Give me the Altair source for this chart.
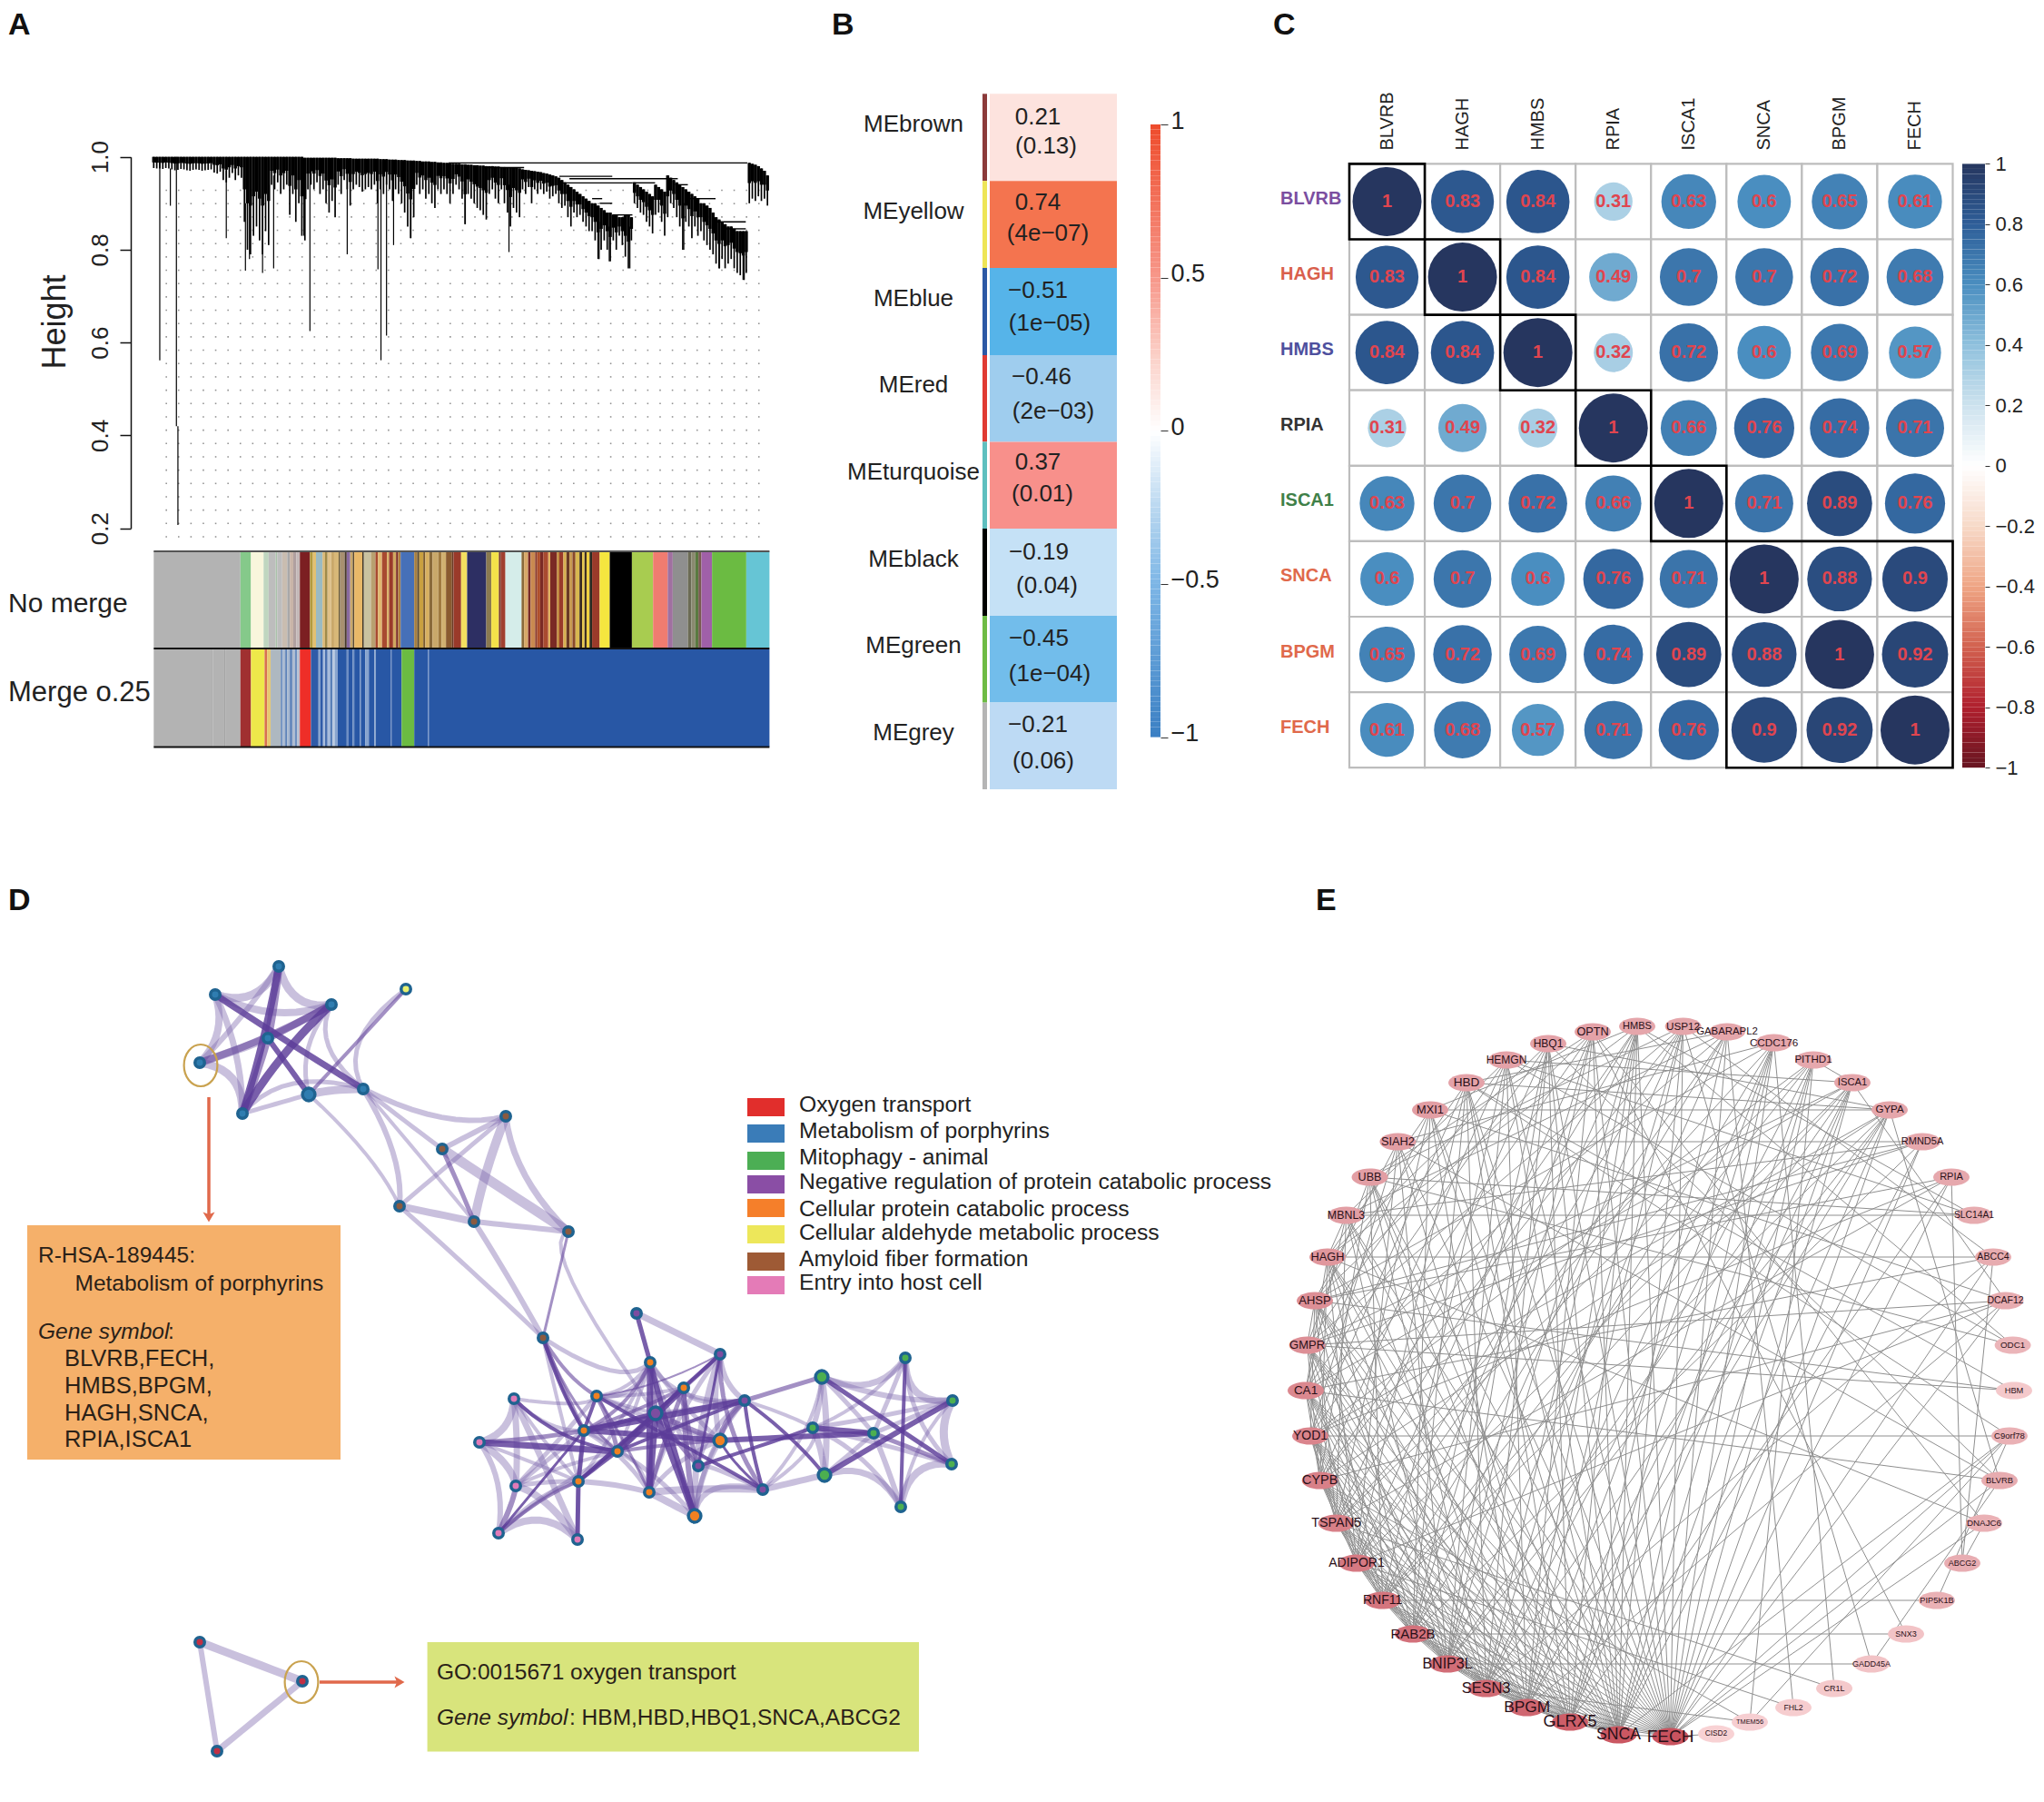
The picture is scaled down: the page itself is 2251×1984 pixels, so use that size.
import altair as alt
import numpy as np
import pandas as pd

W, H = 2235, 1968
FONT = "Liberation Sans"
PX = alt.Scale(domain=[8, 8 + W], range=[0, W], nice=False, zero=False)
PY = alt.Scale(domain=[8, 8 + H], range=[0, H], nice=False, zero=False)

# ---------- Panel A ----------
LEAF = alt.Scale(domain=[305, 1527], range=[161.3, 839.4], nice=False, zero=False)
HGT = alt.Scale(domain=[0.2, 1.0], range=[573.7, 164.7], nice=False, zero=False)
DEND_BOTTOM = [
 .976,.975,.975,.974,.976,.975,.973,.971,.972,.974,.973,.971,.970,.972,.973,.972,.970,.971,.972,.973,
 .966,.964,.968,.950,.945,.955,.965,.950,.960,.955,
 .86,.80,.79,.83,.85,.82,.79,.84,.81,
 .94,.93,.945,.92,.93,.94,.875,.92,.86,.90,.83,
 .82,.93,.94,.93,.945,.92,.93,.90,.88,.905,.87,
 .94,.92,.95,.93,.895,.93,.94,.935,.925,.93,.935,.93,.94,.90,
 .93,.92,.94,.93,.905,.93,.92,.90,.88,.85,.825,.87,
 .94,.92,.93,.91,.92,.90,.89,.93,.92,.93,.92,.90,.92,
 .94,.93,.91,.855,.92,.91,.90,.89,.885,.875,.865,
 .92,.93,.91,.90,.93,.90,.88,.85,.89,.88,.87,
 .93,.92,.935,.90,.93,.92,.93,.92,.925,.91,.915,
 .92,.90,.89,.895,.87,.85,.88,.87,.875,.86,.85,.84,.84,.82,.78,.80,.82,.80,.775,.82,.80,.83,.81,.785,.76,.82,
 .90,.89,.88,.875,.86,.85,.835,.875,.88,.86,.83,.87,
 .90,.89,.87,.85,.80,.86,.85,.825,.85,.83,.84,.82,.81,.80,.79,.77,.76,.78,.76,.77,.78,.76,.75,.745,.735,.75,
 .90,.91,.905,.915,.905,.91,.895]
DEND_TOP = [1.0,1.0,1.0,1.0,1.0,1.0,1.0,1.0,1.0,1.0,1.0,1.0,1.0,1.0,1.0,1.0,1.0,1.0,1.0,1.0,
 1.0,1.0,1.0,1.0,1.0,1.0,1.0,1.0,1.0,1.0,1.0,1.0,1.0,1.0,1.0,1.0,1.0,1.0,1.0,
 1.0,1.0,1.0,1.0,1.0,1.0,1.0,1.0,1.0,1.0,1.0,
 .998,.998,.998,.998,.998,.998,.998,.998,.998,.998,.998,
 .997,.997,.997,.997,.997,.996,.996,.996,.996,.996,.996,.996,.996,.996,
 .995,.995,.995,.994,.994,.994,.993,.993,.993,.992,.992,.992,
 .991,.991,.990,.990,.990,.989,.989,.988,.988,.987,.987,.986,.985,
 .985,.985,.984,.984,.983,.983,.982,.982,.981,.981,.980,
 .980,.980,.979,.979,.978,.978,.977,.977,.976,.976,.975,
 .973,.972,.971,.970,.969,.968,.967,.965,.964,.962,.960,
 .958,.955,.95,.945,.94,.935,.93,.925,.92,.915,.91,.905,.90,.90,.895,.89,.885,.88,.88,.875,.875,.87,.87,.875,.875,.87,
 .945,.94,.935,.93,.925,.92,.915,.94,.935,.93,.925,.96,
 .955,.95,.945,.94,.935,.93,.925,.92,.915,.91,.90,.90,.895,.89,.88,.87,.865,.86,.855,.85,.85,.845,.84,.84,.84,.84,
 .987,.985,.983,.98,.975,.97,.96]
DEND_X = list(range(305, 305 + 6 * len(DEND_TOP), 6))
SPIKES = [(317,.99,.562),(338,.975,.895),(350,1.0,.42),(353,.42,.207),(449,.97,.825),(487,.9,.755),
 (495,.9,.78),(521,.9,.75),(543,.96,.76),(603,.97,.83),(615,.97,.625),(689,.98,.79),(750,.98,.758),
 (756,.99,.562),(767,.99,.615),(781,.97,.81),(815,.92,.825),(923,.95,.855),(1010,.94,.795),
 (1189,.86,.78),(1209,.85,.775),(1250,.85,.76),(1428,.82,.76),(1477,.8,.735),(1357,.9,.80)]
LINKS = [(890,1483,.987),(960,1040,.977),(1110,1215,.958),(1130,1325,.953),(1115,1255,.944),(1255,1300,.944),
 (1325,1345,.953),(1340,1365,.94),(1365,1420,.91),(1175,1195,.91),(1190,1215,.90),(1215,1255,.875),
 (1420,1480,.86),(1440,1480,.845)]
TRACK1 = [(477,'#B3B3B3'),(498,'#85C98A'),(523,'#F8F6DC'),(533,'#BFD6BF'),(547,'#BDBDBD'),(550,'#A9C2A9'),(560,'#BDBDBD'),
 (570,'#C9BDB0'),(575,'#A8A8A8'),(582,'#C9B5A8'),(588,'#B0A0A0'),(595,'#C4B8B8'),(615,'#7C1F22'),(621,'#B39A3D'),
 (627,'#E3C070'),(640,'#9BBAC2'),(645,'#D8B878'),(650,'#A08A4A'),(657,'#E0C088'),(663,'#C9A86A'),(672,'#D8B878'),
 (675,'#6A5A3A'),(684,'#A89070'),(688,'#4A3A2A'),(695,'#8A6BA0'),(700,'#C9A86A'),(703,'#5A4A30'),(719,'#E8B868'),
 (722,'#3A3020'),(736,'#C9C2A0'),(745,'#B8A070'),(750,'#A84A30'),(758,'#E0B870'),(768,'#A84A30'),(772,'#D8B060'),
 (780,'#9A3A2A'),(786,'#D0A860'),(790,'#7A2A25'),(795,'#B08040'),(822,'#4670B8'),(828,'#A88040'),(832,'#5C4A2A'),
 (840,'#C9A040'),(844,'#7A5A2A'),(852,'#D8B060'),(858,'#8A6A3A'),(870,'#C9A86A'),(876,'#A07A40'),(885,'#D0B070'),
 (897,'#8A5A30'),(900,'#6A3A25'),(915,'#9A3A2A'),(927,'#F4E060'),(965,'#2D2F63'),(975,'#8A7A50'),(990,'#F3E24A'),
 (994,'#7A3A2A'),(1003,'#A04030'),(1035,'#D5EDEA'),(1040,'#8A6A3A'),(1048,'#D8A868'),(1053,'#7A2A25'),(1062,'#C98A50'),
 (1066,'#8A3A2A'),(1072,'#B0502A'),(1078,'#7A2A25'),(1088,'#A84A30'),(1092,'#E0B060'),(1105,'#7A2A25'),(1110,'#C08A40'),
 (1118,'#9A3A2A'),(1124,'#D8B050'),(1130,'#6A3A25'),(1136,'#C89A50'),(1142,'#8A4A2A'),(1150,'#D8B850'),(1155,'#3A2A20'),
 (1160,'#E8C850'),(1164,'#3A2A20'),(1170,'#F0D040'),(1175,'#2A2A20'),(1190,'#9A3A2A'),(1210,'#F5E63F'),(1254,'#000000'),
 (1296,'#A8CC50'),(1325,'#F07C70'),(1335,'#A070A0'),(1365,'#8F8F8F'),(1372,'#6B6B55'),(1380,'#8A8A70'),(1386,'#5A7A40'),
 (1392,'#7A5A50'),(1413,'#A060A8'),(1481,'#6BBB42'),(1527,'#66C5D5')]
TRACK2 = [(420,'#B3B3B3'),(422,'#A5A5A5'),(445,'#B3B3B3'),(447,'#A5A5A5'),(477,'#B3B3B3'),(498,'#A03030'),(525,'#EEE84A'),
 (530,'#D87050'),(537,'#E8C870'),(557,'#AEB8C0'),(561,'#6E8FBF'),(566,'#A8B8D0'),(570,'#5E82B8'),(575,'#A8B8D0'),
 (580,'#5E82B8'),(585,'#B0BCD0'),(590,'#6E8FBF'),(595,'#B8C0D0'),(617,'#EE2E28'),(632,'#2F5BA8'),(636,'#88A4CE'),
 (641,'#2F5BA8'),(645,'#A8BCDC'),(650,'#4A70B0'),(655,'#A8BCDC'),(660,'#5A80B8'),(664,'#B8C8E0'),(670,'#88A4CE'),
 (688,'#2857A5'),(691,'#6E8FC4'),(700,'#2857A5'),(703,'#6E8FC4'),(714,'#2857A5'),(716,'#6E8FC4'),(725,'#2857A5'),
 (732,'#88A4CE'),(743,'#2857A5'),(746,'#88A4CE'),(775,'#2857A5'),(777,'#6E8FC4'),(797,'#2857A5'),(822,'#6BBB42'),
 (849,'#2857A5'),(851,'#6E8FC4'),(1527,'#2857A5')]

# ---------- Panel B ----------
B_NAMES = ["MEbrown","MEyellow","MEblue","MEred","MEturquoise","MEblack","MEgreen","MEgrey"]
B_CORR = ["0.21","0.74","\u22120.51","\u22120.46","0.37","\u22120.19","\u22120.45","\u22120.21"]
B_PVAL = ["(0.13)","(4e\u221207)","(1e\u221205)","(2e\u221203)","(0.01)","(0.04)","(1e\u221204)","(0.06)"]
B_CELL = ['#FDE3DE','#F4744F','#56B4E9','#9FCDEE','#F8908B','#C5E1F6','#72BDEB','#BDDAF4']
B_SIDE = ['#8B3A3A','#EEE556','#2B58A5','#E03A33','#5FBFBF','#000000','#6DBB45','#B5B5B5']
B_LAB_Y = [137,233,329,424,520,616,711,807]
B_C_X = [1143,1143,1143,1147,1143,1144,1144,1143]
B_C_Y = [129,223,320,415,509,608,703,798]
B_P_X = [1152,1154,1156,1160,1148,1153,1156,1149]
B_P_Y = [161,257,356,453,544,645,742,838]
B_STOP_D = [-1,-.5,-.25,0,.25,.5,1]
B_STOP_C = ['#3A7FC3','#7DB6E6','#BAD8F0','#FFFFFF','#FBCFC6','#F7978A','#EE4B2B']

# ---------- Panel C ----------
GENES = ["BLVRB","HAGH","HMBS","RPIA","ISCA1","SNCA","BPGM","FECH"]
GENE_COL = ['#7B4EA0','#D9604C','#4E509E','#333333','#3F8048','#E0694B','#E0694B','#E0694B']
CORR = [[1,.83,.84,.31,.63,.6,.65,.61],[.83,1,.84,.49,.7,.7,.72,.68],[.84,.84,1,.32,.72,.6,.69,.57],
 [.31,.49,.32,1,.66,.76,.74,.71],[.63,.7,.72,.66,1,.71,.89,.76],[.6,.7,.6,.76,.71,1,.88,.9],
 [.65,.72,.69,.74,.89,.88,1,.92],[.61,.68,.57,.71,.76,.9,.92,1]]
BOXES = [(0,1),(1,2),(2,3),(3,4),(4,5),(5,8)]
C_STOP_D = [-1,-.8,-.6,-.4,-.2,0,.2,.4,.6,.8,1]
C_STOP_C = ['#671520','#B01F2E','#D2614F','#EFA584','#F7D9C8','#FFFFFF','#CDE2EE','#8FC1DD','#4A8EC0','#2E5E98','#26365F']
CX = alt.Scale(domain=[0, 8], range=[1478, 2142.5], nice=False, zero=False)
CY = alt.Scale(domain=[0, 8], range=[172.4, 837.2], nice=False, zero=False)

# ---------- Panel D ----------
LEG = ["Oxygen transport","Metabolism of porphyrins","Mitophagy - animal","Negative regulation of protein catabolic process",
 "Cellular protein catabolic process","Cellular aldehyde metabolic process","Amyloid fiber formation","Entry into host cell"]
LEG_C = ['#E12E2C','#3A7CB8','#4CAE54','#8A4EA5','#F57F2A','#EDE75A','#9E5A35','#E47BB7']
LEG_T = [1209,1238,1268,1294,1320,1349,1379,1405]
LEG_Y = [1217,1246,1275,1302,1332,1358,1387,1413]
BLUE,PUR,ORG,PNK,GRN,BRN,RED,YEL = '#2F7DB0','#7D4DA0','#F08020','#E07AB8','#4CAF50','#8A5A40','#C03045','#E8F070'
NODES = {
 'a':(237,1095,BLUE,0),'b':(307,1064,BLUE,0),'c':(365,1106,BLUE,0),'d':(295,1143,BLUE,0),'e':(220,1170,BLUE,0),
 'f':(267,1226,BLUE,0),'g':(340,1205,BLUE,1),'h':(400,1199,BLUE,0),'y':(447,1089,YEL,0),
 'i':(557,1229,BRN,0),'j':(487,1265,BRN,0),'k':(440,1328,BRN,0),'l':(522,1345,BRN,0),'m':(626,1356,BRN,0),'n':(598,1473,BRN,0),
 'p1':(701,1446,PUR,0),'p2':(793,1491,PUR,0),'o1':(716,1500,ORG,0),'o2':(753,1528,ORG,0),'o3':(657,1537,ORG,0),
 'k1':(566,1540,PNK,0),'pc':(722,1556,PUR,1),'p3':(820,1542,PUR,0),'g1':(905,1516,GRN,1),'g2':(997,1495,GRN,0),
 'g3':(1049,1542,GRN,0),'g4':(895,1572,GRN,0),'g5':(962,1578,GRN,0),'o4':(643,1575,ORG,0),'o5':(793,1586,ORG,1),
 'k2':(528,1588,PNK,0),'o6':(680,1598,ORG,0),'p4':(769,1614,PUR,0),'g6':(1048,1612,GRN,0),'o7':(637,1631,ORG,0),
 'k3':(568,1636,PNK,0),'o8':(715,1643,ORG,0),'p5':(840,1640,PUR,0),'g7':(908,1624,GRN,1),'o9':(765,1669,ORG,1),
 'g8':(992,1659,GRN,0),'k4':(549,1688,PNK,0),'k5':(636,1695,PNK,0),
 't1':(220,1808,RED,0),'t2':(333,1851,RED,0),'t3':(239,1928,RED,0)}
HUBS = {'T':(300,1150),'S':(520,1300),'L':(600,1610),'M':(715,1575),'R':(975,1570),'Z':(0,0)}
# (from, to, width, strength 0 light - 2 dark, bundling hub, bundling amount)
EDGES = [
 ('a','b',9,0,'T',.35),('b','c',9,0,'T',.35),('a','e',8,0,'T',.25),('e','f',9,0,'T',.35),('a','c',8,0,'T',.45),
 ('a','h',7,2,'T',.1),('b','d',9,1,'T',.2),('b','f',8,2,'T',.3),('c','f',9,2,'T',.4),('c','d',8,1,'T',.1),
 ('e','c',8,1,'T',.45),('e','d',9,0,'T',.1),('d','f',8,1,'T',.2),('d','g',6,2,'T',.2),('f','g',5,0,'T',.0),
 ('f','h',5,0,'T',.5),('g','h',9,0,'T',.05),('c','h',5,0,'T',.4),('c','g',5,0,'T',.4),('y','h',5,0,'T',.35),
 ('y','g',4,1,'Z',.0),('a','f',7,0,'T',.25),('b','e',6,0,'T',.1),
 ('g','k',4,0,'S',.15),('h','i',6,0,'S',.3),('h','j',5,0,'S',.05),('h','l',4,0,'S',.03),('h','k',6,0,'S',.2),
 ('i','j',6,0,'S',.0),('i','k',5,0,'S',.0),('i','l',10,0,'S',.3),('j','l',5,1,'S',.05),('j','m',11,0,'S',.05),
 ('k','l',8,0,'S',.0),('l','m',6,0,'S',.0),('i','m',7,0,'S',.3),('k','n',5,0,'S',.02),('l','n',6,0,'S',.08),
 ('m','pc',4,0,'S',.45),('m','n',3,1,'S',.0),
 ('k2','k1',8,0,'L',.25),('k2','k3',8,0,'L',.25),('k2','k4',6,0,'L',.25),('k1','k3',7,0,'L',.1),('k1','k5',7,0,'L',.3),
 ('k3','k4',6,1,'L',.15),('k3','k5',8,0,'L',.3),('k4','k5',8,0,'L',.35),('k3','o4',5,0,'L',.3),('k3','o3',5,0,'L',.3),
 ('k3','o6',4,0,'L',.35),('k4','o7',5,0,'L',.3),('k1','o3',4,0,'M',.3),('k1','o4',4,0,'L',.3),
 ('o7','k4',4,1,'L',.2),('k5','o4',4,0,'L',.1),('o7','o8',6,0,'M',.05),('o8','o9',8,0,'M',.0),('o8','p5',8,0,'M',.05),
 ('o9','p5',6,0,'M',.3),('p5','g7',7,0,'Z',.0),('o9','p3',5,0,'M',.2),('p1','p2',7,0,'M',.0),('o1','pc',6,1,'M',.0),
 ('n','o3',4,1,'L',.1),('n','o4',5,1,'L',.05),('n','o1',5,0,'M',.4),('n','o7',4,0,'L',.05),('o1','o3',5,0,'M',.35),
 ('o3','o5',5,0,'M',.3),('o3','pc',4,0,'M',.1),('o1','o5',5,0,'M',.1),('o1','p4',5,0,'M',.2),('o2','p3',5,0,'M',.3),
 ('o2','p4',5,1,'M',.1),('pc','p3',5,0,'M',.1),('p2','p3',6,0,'M',.1),('p2','o9',7,0,'M',.2),('p2','o8',5,0,'M',.4),
 ('p4','p5',5,0,'M',.3),('o5','p2',6,0,'M',.1),('o1','p3',5,0,'M',.4),('o6','o8',4,0,'M',.3),('o4','o8',5,0,'M',.2),
 ('o3','o1',4,0,'M',.2),('o3','o2',4,0,'M',.1),('o3','o6',5,1,'M',.1),('o4','o1',4,1,'M',.3),('o4','o2',4,1,'M',.1),
 ('o4','o6',5,0,'M',.1),('o6','pc',5,1,'M',.1),('o6','o1',4,0,'M',.1),('o6','o5',4,1,'M',.1),('o6','o9',5,0,'M',.2),
 ('o7','pc',4,1,'M',.1),('o7','o1',4,0,'M',.2),('o7','o2',4,0,'M',.1),('o8','o2',5,1,'M',.1),('o8','o5',5,0,'M',.2),
 ('o9','o5',6,0,'M',.1),('o9','o2',6,1,'M',.1),('p3','o5',6,1,'M',.1),('p3','p4',5,0,'M',.2),('p2','pc',4,0,'M',.1),
 ('p2','o2',4,1,'M',.1),('p2','p5',5,1,'M',.2),('o5','pc',6,1,'M',.1),('p4','pc',5,1,'M',.1),('k3','o7',5,0,'L',.1),
 ('k1','o7',4,0,'L',.2),('k2','o4',5,1,'L',.1),('k2','o7',4,0,'L',.2),('k4','o6',4,0,'L',.2),
 ('g1','p3',5,1,'M',.12),('g1','p5',4,0,'R',.2),('g4','p3',4,0,'R',.1),('g4','p5',4,0,'R',.3),
 ('g1','g7',7,0,'R',.08),('g1','g4',6,0,'R',.05),('g1','g5',5,0,'R',.1),('g1','g2',7,0,'R',.45),('g2','g3',8,0,'R',.45),
 ('g3','g6',9,0,'R',.2),('g6','g8',8,0,'R',.35),('g7','g8',7,0,'R',.4),('g7','g5',5,0,'R',.15),('g2','g5',5,0,'R',.1),
 ('g3','g5',5,0,'R',.1),('g4','g7',7,0,'R',.05),('g4','g6',5,0,'R',.1),('g2','g6',5,0,'R',.4),('g3','g4',5,0,'R',.2),
 ('g1','g3',6,0,'R',.3),('g4','g8',5,0,'R',.3),('g5','g8',6,0,'R',.1),('g2','g4',4,0,'R',.3),('g3','g8',4,0,'R',.3),
 ('t1','t2',9,0,'Z',.0),('t1','t3',6,0,'Z',.0),('t2','t3',7,0,'Z',.0),
 ('k2','o6',7,2,'Z',.0),('o4','p3',7,2,'M',.04),('o4','o5',6,2,'M',.08),('o7','k5',5,2,'Z',.0),('o7','o4',5,2,'Z',.0),
 ('k4','o4',3,2,'Z',.0),('k1','o6',4,2,'L',.35),('o3','o4',4,2,'Z',.0),('p1','o1',5,2,'Z',.0),('o1','o8',7,2,'M',.1),
 ('o1','o9',6,2,'M',.1),('pc','o9',7,2,'M',.0),('pc','o8',7,2,'M',.0),('o2','o6',7,2,'M',.05),('p2','o7',4,2,'M',.06),
 ('o7','o6',4,2,'Z',.0),('p3','p5',4,2,'M',.03),('o3','p5',4,2,'M',.1),('o5','p5',3,2,'M',.1),('o5','g5',6,2,'R',.03),
 ('p4','g4',4,2,'R',.04),('p4','p2',3,2,'Z',.0),('g1','g6',5,2,'R',.05),('g3','g7',6,2,'R',.05),('g5','g6',5,1,'R',.0),
 ('g4','g5',6,2,'R',.0),('g2','g8',4,2,'R',.02),('p3','g7',4,2,'R',.08),('n','o4',4,2,'L',.1),('n','o6',3,1,'L',.2),
 ('o3','o8',3,1,'M',.1),('o4','pc',5,2,'M',.05),('o6','p3',4,2,'M',.1),('o3','p2',2,1,'M',.2)]

# ---------- Panel E ----------
E_NAMES = ["FECH","SNCA","GLRX5","BPGM","SESN3","BNIP3L","RAB2B","RNF11","ADIPOR1","TSPAN5","CYPB","YOD1","CA1","GMPR","AHSP","HAGH",
 "MBNL3","UBB","SIAH2","MXI1","HBD","HEMGN","HBQ1","OPTN","HMBS","USP12","GABARAPL2","CCDC176","PITHD1","ISCA1","GYPA","RMND5A",
 "RPIA","SLC14A1","ABCC4","DCAF12","ODC1","HBM","C9orf78","BLVRB","DNAJC6","ABCG2","PIP5K1B","SNX3","GADD45A","CR1L","FHL2","TMEM56","CISD2"]
E_X = [1839.5,1782.5,1729,1681.6,1636.6,1594,1556,1522.6,1494,1471.6,1453.7,1443,1438,1439.6,1448,1462,1482.5,1508.5,1539.4,1575,
 1615,1659,1705,1754,1803,1853.6,1902,1953.5,1997,2040,2081,2117,2149,2174,2195,2208.5,2216.6,2218,2213,2202,2185,2161,2133,2099,2061,2020,1975,1927,1890]
E_Y = [1912,1910,1896,1880,1859,1832,1799,1762,1721,1677,1630,1581,1531,1481,1432,1384,1338,1296,1257,1222,1192,1167,1149,1136,1130,1130,
 1136,1148,1167,1192,1222,1257,1296,1338,1384,1432,1481,1531,1581,1630,1677,1721,1762,1799,1832,1859,1880,1896,1909]
E_FS = [19,17.6,18,17.3,16.4,16,15,14,14,14.4,14.4,14,13.5,13,13,12.8,12.4,12.6,12.8,12.8,13.6,12,12,12.7,11,11.7,11.4,11.7,11.6,11.2,11.5,11,
 11,10.3,10.6,10.5,9.8,9.3,9.5,9.4,9.8,9,9.2,9,9,9,8.7,7.4,8.3]
E_DEG = [50,49,47,45,44,43,42,41,40,38,38,37,36,34,34,32,30,30,30,30,29,29,29,29,28,28,28,28,27,28,28,27,27,25,25,25,20,9,22,25,22,24,22,12,12,9,7,6,4]
E_LINKS = {
 "FECH":"GYPA ISCA1 PITHD1 CCDC176 GABARAPL2 USP12 HMBS OPTN HBQ1 HEMGN HBD MXI1 SIAH2 UBB MBNL3 HAGH AHSP GMPR CA1 YOD1 CYPB TSPAN5 ADIPOR1 RNF11 RAB2B BNIP3L SESN3 BPGM GLRX5 SNCA RMND5A RPIA ABCC4 DCAF12 C9orf78 BLVRB DNAJC6 CISD2",
 "SNCA":"GYPA ISCA1 PITHD1 CCDC176 USP12 HMBS OPTN HBQ1 HEMGN HBD MXI1 UBB MBNL3 HAGH AHSP GMPR CA1 YOD1 CYPB TSPAN5 ADIPOR1 RNF11 RAB2B BNIP3L SESN3 BPGM GLRX5 RMND5A C9orf78",
 "GLRX5":"PITHD1 GABARAPL2 HMBS HBQ1 HBD SIAH2 UBB HAGH AHSP GMPR CA1 YOD1 CYPB TSPAN5 ADIPOR1 RNF11 RAB2B BNIP3L SESN3 BPGM RPIA ISCA1 CCDC176",
 "BPGM":"ISCA1 CCDC176 USP12 OPTN HEMGN MXI1 MBNL3 AHSP GMPR CA1 YOD1 CYPB TSPAN5 ADIPOR1 RNF11 RAB2B BNIP3L SESN3 HMBS GYPA DCAF12",
 "SESN3":"GYPA PITHD1 HMBS HBQ1 HBD UBB HAGH GMPR CA1 YOD1 CYPB TSPAN5 ADIPOR1 RNF11 RAB2B BNIP3L TMEM56 USP12 CCDC176 ABCC4",
 "BNIP3L":"ISCA1 GABARAPL2 OPTN HEMGN SIAH2 MBNL3 AHSP CA1 YOD1 CYPB TSPAN5 ADIPOR1 RNF11 RAB2B GADD45A HBQ1 HMBS GYPA",
 "RAB2B":"RMND5A CCDC176 USP12 HBQ1 MXI1 HAGH GMPR YOD1 CYPB TSPAN5 ADIPOR1 RNF11 SNX3 OPTN HBD",
 "RNF11":"GYPA PITHD1 HMBS HEMGN UBB AHSP CA1 CYPB TSPAN5 ADIPOR1 PIP5K1B GABARAPL2 ISCA1",
 "ADIPOR1":"ISCA1 GABARAPL2 OPTN HBD SIAH2 HAGH GMPR YOD1 CYPB FHL2 DCAF12 USP12",
 "TSPAN5":"RPIA CCDC176 HBQ1 MXI1 MBNL3 AHSP CA1 YOD1 CR1L PITHD1 HMBS",
 "CYPB":"DCAF12 USP12 HMBS HEMGN UBB HAGH GMPR CA1 TMEM56 GYPA",
 "YOD1":"GYPA PITHD1 OPTN HBD SIAH2 AHSP C9orf78 RPIA",
 "CA1":"BLVRB GABARAPL2 HBQ1 MXI1 MBNL3 HAGH ABCC4 ISCA1",
 "GMPR":"DCAF12 HBM USP12 HEMGN UBB AHSP ISCA1 RMND5A",
 "AHSP":"HBM CCDC176 OPTN HBD SIAH2 RMND5A RPIA",
 "HAGH":"ABCC4 HMBS HBQ1 MXI1 MBNL3 DNAJC6",
 "MBNL3":"SLC14A1 RMND5A GABARAPL2 HEMGN",
 "UBB":"SLC14A1 ODC1 USP12 OPTN",
 "SIAH2":"RMND5A BLVRB CCDC176",
 "MXI1":"GYPA DCAF12 HMBS",
 "HBD":"GYPA HBM GABARAPL2 C9orf78",
 "HEMGN":"ISCA1 ODC1 SLC14A1",
 "HBQ1":"GYPA BLVRB",
 "OPTN":"SNX3 DNAJC6",
 "HMBS":"SLC14A1 ODC1",
 "USP12":"GADD45A ABCC4",
 "GABARAPL2":"FHL2",
 "CCDC176":"CR1L",
 "PITHD1":"ISCA1 TMEM56",
 "ISCA1":"DCAF12",
 "GYPA":"BLVRB",
 "RPIA":"ABCG2",
 "ABCC4":"ABCG2",
 "C9orf78":"TMEM56 PIP5K1B",
 "BLVRB":"GADD45A",
 "DNAJC6":"ABCG2"}

PANEL_LETTERS = [("A",9,28),("B",916,28),("C",1402,28),("D",9,992),("E",1449,992)]
CURVE_T = [0,.1,.2,.3,.4,.5,.6,.7,.8,.9,1]
ELLIPSE_E = "M -1,0 A 1,.48 0 1,0 1,0 A 1,.48 0 1,0 -1,0 Z"
ELLIPSE_H = "M -.8,0 A .8,1 0 1,0 .8,0 A .8,1 0 1,0 -.8,0 Z"
CHEVRON = "M -1,-.7 L 0,1 L 1,-.7 L 0,-.3 Z"
CHEVRON_R = "M -.7,-1 L 1,0 L -.7,1 L -.3,0 Z"


def px(f): return alt.X(f, type="quantitative", scale=PX, axis=None)
def py(f): return alt.Y(f, type="quantitative", scale=PY, axis=None)
def px2(f): return alt.X2(f)
def py2(f): return alt.Y2(f)


def texts(rows, size, color="#222222", **kw):
    df = pd.DataFrame(rows, columns=["t", "x", "y"])
    mk = dict(font=FONT, fontSize=size, color=color, baseline="middle", align="left")
    mk.update(kw)
    return alt.Chart(df).mark_text(**mk).encode(x=px("x"), y=py("y"), text="t:N")


def rects(rows, **kw):
    df = pd.DataFrame(rows, columns=["x", "x2", "y", "y2", "c"])
    return alt.Chart(df).mark_rect(**kw).encode(x=px("x"), x2=px2("x2"), y=py("y"), y2=py2("y2"),
                                                 color=alt.Color("c:N", scale=None))


layers = []

# Panel letters
layers.append(texts(PANEL_LETTERS, 34, "#111111", fontWeight="bold"))

# ----- A -----
dots = pd.DataFrame([(x, h) for x in np.arange(330, 1530, 24.5) for h in np.arange(.928, .16, -.0287)], columns=["x", "h"])
layers.append(alt.Chart(dots).mark_square(size=2.5, color="#777777", opacity=.8).encode(
    x=alt.X("x:Q", scale=LEAF, axis=None),
    y=alt.Y("h:Q", scale=HGT, axis=alt.Axis(orient="left", offset=-136, values=[.2,.4,.6,.8,1.0], format=".1f", grid=False,
        labelAngle=270, labelFontSize=26, labelFont=FONT, labelColor="#222", labelPadding=9, labelAlign="center",
        tickSize=12, tickColor="#111", tickWidth=1.5, domainColor="#111", domainWidth=1.5,
        title="Height", titleFont=FONT, titleFontSize=36, titleFontWeight="normal", titleColor="#222", titleAngle=270,
        titleX=-84, titleY=346, titleAlign="center", titleBaseline="middle"))))
dend = pd.DataFrame({"x": DEND_X, "t": DEND_TOP, "b": DEND_BOTTOM})
dend["mid"] = dend.t - .5 * (dend.t - dend.b)
layers.append(alt.Chart(dend).mark_rule(color="#000000", strokeWidth=1.7).encode(
    x=alt.X("x:Q", scale=LEAF, axis=None), y=alt.Y("t:Q", scale=HGT, axis=None), y2=alt.Y2("b:Q")))
layers.append(alt.Chart(dend).mark_rule(color="#000000", strokeWidth=3.5).encode(
    x=alt.X("x:Q", scale=LEAF, axis=None), y=alt.Y("t:Q", scale=HGT, axis=None), y2=alt.Y2("mid:Q")))
sp = pd.DataFrame(SPIKES, columns=["x", "t", "b"])
layers.append(alt.Chart(sp).mark_rule(color="#000000", strokeWidth=1.2).encode(
    x=alt.X("x:Q", scale=LEAF, axis=None), y=alt.Y("t:Q", scale=HGT, axis=None), y2=alt.Y2("b:Q")))
lk = pd.DataFrame(LINKS, columns=["x", "x2", "h"])
layers.append(alt.Chart(lk).mark_rule(color="#000000", strokeWidth=1.4).encode(
    x=alt.X("x:Q", scale=LEAF, axis=None), x2=alt.X2("x2:Q"), y=alt.Y("h:Q", scale=HGT, axis=None)))


def track(segs, y0, y1):
    rows, s = [], 305
    for e, c in segs:
        rows.append((s, e, y0, y1, c))
        s = e
    df = pd.DataFrame(rows, columns=["x", "x2", "y", "y2", "c"])
    return alt.Chart(df).mark_rect().encode(x=alt.X("x:Q", scale=LEAF, axis=None), x2=alt.X2("x2:Q"),
                                             y=py("y"), y2=py2("y2"), color=alt.Color("c:N", scale=None))


layers.append(track(TRACK1, 607, 713))
layers.append(track(TRACK2, 715, 822))
tr_lines = pd.DataFrame({"x": [305]*3, "x2": [1527]*3, "y": [607, 714, 822.5], "c": ["#555555", "#111111", "#111111"]})
layers.append(alt.Chart(tr_lines).mark_rule(strokeWidth=2).encode(
    x=alt.X("x:Q", scale=LEAF, axis=None), x2=alt.X2("x2:Q"), y=py("y"), color=alt.Color("c:N", scale=None)))
layers.append(texts([("No merge", 9, 665)], 30))
layers.append(texts([("Merge o.25", 9, 763)], 31))

# ----- B -----
rows = [(1090, 1230, a, b, c) for a, b, c in zip([103.3,199.2,295,391,486.4,582,678,773.6], [199.2,295,391,486.4,582,678,773.6,869], B_CELL)]
layers.append(rects(rows))
rows = [(1082, 1087, a, b, c) for a, b, c in zip([103.3,199.2,295,391,486.4,582,678,773.6], [199.2,295,391,486.4,582,678,773.6,869], B_SIDE)]
layers.append(rects(rows))
layers.append(texts(list(zip(B_NAMES, [1006]*8, B_LAB_Y)), 26, align="center"))
layers.append(texts(list(zip(B_CORR, B_C_X, B_C_Y)), 26, align="center"))
layers.append(texts(list(zip(B_PVAL, B_P_X, B_P_Y)), 26, align="center"))
LEVELS = np.linspace(-1, 1, 121)
MINUS = "replace(format(datum.value,'~g'),'-','\u2212')"


def colorbar(x0, x1, yscale, cscale, values, offset, fs, ts, pad, lo):
    df = pd.DataFrame({"x": x0, "x2": x1, "a": LEVELS[:-1], "b": LEVELS[1:], "m": (LEVELS[:-1] + LEVELS[1:]) / 2})
    return alt.Chart(df).mark_rect().encode(
        x=px("x"), x2=px2("x2"),
        y=alt.Y("a:Q", scale=yscale, axis=alt.Axis(orient="right", offset=offset, values=values, grid=False, title=None,
                labelExpr=MINUS, labelFont=FONT, labelFontSize=fs, labelColor="#222", labelPadding=pad, labelAlign="left",
                labelOffset=lo, tickSize=ts, tickColor="#333", domain=False)),
        y2=alt.Y2("b:Q"),
        color=alt.Color("m:Q", scale=cscale, legend=None))


layers.append(colorbar(1267, 1278, alt.Scale(domain=[-1, 1], range=[803.6, 129], nice=False, zero=False),
                       alt.Scale(domain=B_STOP_D, range=B_STOP_C, interpolate="rgb"), [-1, -.5, 0, .5, 1], -965, 27, 8, 3, -4))

# ----- C -----
cells = pd.DataFrame([(c, c + 1, r, r + 1, CORR[r][c]) for r in range(8) for c in range(8)], columns=["x", "x2", "y", "y2", "v"])
cells["cx"] = cells.x + .5
cells["cy"] = cells.y + .5
cells["lab"] = cells.v.map(lambda v: f"{v:g}")
CCOL = alt.Scale(domain=C_STOP_D, range=C_STOP_C, interpolate="rgb")
layers.append(alt.Chart(cells).mark_rect(fill="#FFFFFF", stroke="#BDBDBD", strokeWidth=2.2).encode(
    x=alt.X("x:Q", scale=CX, axis=None), x2=alt.X2("x2:Q"), y=alt.Y("y:Q", scale=CY, axis=None), y2=alt.Y2("y2:Q")))
layers.append(alt.Chart(cells).mark_circle(opacity=1).encode(
    x=alt.X("cx:Q", scale=CX, axis=None), y=alt.Y("cy:Q", scale=CY, axis=None),
    size=alt.Size("v:Q", scale=alt.Scale(domain=[0, 1], range=[0, 5776]), legend=None),
    color=alt.Color("v:Q", scale=CCOL, legend=None)))
layers.append(alt.Chart(cells).mark_text(font=FONT, fontSize=20, fontWeight="bold", color="#E0454F", baseline="middle").encode(
    x=alt.X("cx:Q", scale=CX, axis=None), y=alt.Y("cy:Q", scale=CY, axis=None), text="lab:N"))
bx = pd.DataFrame(BOXES, columns=["a", "b"])
layers.append(alt.Chart(bx).mark_rect(fillOpacity=0, stroke="#000000", strokeWidth=2.6).encode(
    x=alt.X("a:Q", scale=CX, axis=None), x2=alt.X2("b:Q"), y=alt.Y("a:Q", scale=CY, axis=None), y2=alt.Y2("b:Q")))
glab = pd.DataFrame({"g": GENES, "i": np.arange(8) + .5, "c": GENE_COL, "x": 1410, "y": 165.5})
layers.append(alt.Chart(glab).mark_text(font=FONT, fontSize=20, fontWeight="bold", align="left", baseline="middle", dy=-3).encode(
    x=px("x"), y=alt.Y("i:Q", scale=CY, axis=None), text="g:N", color=alt.Color("c:N", scale=None)))
layers.append(alt.Chart(glab).mark_text(font=FONT, fontSize=20, color="#222222", angle=270, align="left", baseline="middle").encode(
    x=alt.X("i:Q", scale=CX, axis=None), y=py("y"), text="g:N"))
layers.append(colorbar(2161, 2186, alt.Scale(domain=[-1, 1], range=[837.2, 172.4], nice=False, zero=False),
                       CCOL, C_STOP_D, -57, 22, 5, 6, 0))

# ----- D -----
erows = []
for idx, (a, b, w, st, hub, amt) in enumerate(sorted(EDGES, key=lambda e: e[3])):
    ax, ay = NODES[a][:2]
    bx_, by_ = NODES[b][:2]
    hx, hy = HUBS[hub]
    mx, my = (ax + bx_) / 2, (ay + by_) / 2
    qx, qy = mx + amt * 1.25 * (hx - mx), my + amt * 1.25 * (hy - my)
    for k, t in enumerate(CURVE_T):
        erows.append(dict(e=idx, k=k, w=w, st=st,
                          x=(1 - t) ** 2 * ax + 2 * t * (1 - t) * qx + t ** 2 * bx_,
                          y=(1 - t) ** 2 * ay + 2 * t * (1 - t) * qy + t ** 2 * by_))
edf = pd.DataFrame(erows)
for st, col, op in [(0, "#7E69AE", .42), (1, "#6A4CA0", .62), (2, "#5B3C98", .82)]:
    layers.append(alt.Chart(edf[edf.st == st]).mark_line(color=col, opacity=op).encode(
        x=px("x"), y=py("y"), detail="e:N", order="k:Q", size=alt.Size("w:Q", scale=None)))
ndf = pd.DataFrame([dict(x=v[0], y=v[1], c=v[2], s=190 if v[3] else 110) for v in NODES.values()])
layers.append(alt.Chart(ndf).mark_circle(opacity=1, stroke="#1F6390", strokeWidth=3.5).encode(
    x=px("x"), y=py("y"), color=alt.Color("c:N", scale=None), size=alt.Size("s:Q", scale=None)))
hl = pd.DataFrame({"x": [221, 332], "y": [1173, 1852]})
layers.append(alt.Chart(hl).mark_point(shape=ELLIPSE_H, size=2116, filled=False, stroke="#C9A24F", strokeWidth=2.2, opacity=1).encode(x=px("x"), y=py("y")))
arrows = pd.DataFrame({"x": [230, 352], "x2": [230, 440], "y": [1208, 1852], "y2": [1338, 1852]})
layers.append(alt.Chart(arrows).mark_rule(color="#E0694B", strokeWidth=3.5).encode(x=px("x"), x2=px2("x2"), y=py("y"), y2=py2("y2")))
layers.append(alt.Chart(pd.DataFrame({"x": [230], "y": [1339]})).mark_point(shape=CHEVRON, size=170, filled=True, color="#E0694B", opacity=1).encode(x=px("x"), y=py("y")))
layers.append(alt.Chart(pd.DataFrame({"x": [439], "y": [1852]})).mark_point(shape=CHEVRON_R, size=170, filled=True, color="#E0694B", opacity=1).encode(x=px("x"), y=py("y")))
layers.append(rects([(30, 375, 1349, 1607, "#F5B06A"), (470.6, 1012, 1808, 1928.5, "#D8E47C")]))
layers.append(texts([("R-HSA-189445:", 42, 1383), ("Metabolism of porphyrins", 82.5, 1414),
                     (":", 185, 1466.5), ("GO:0015671 oxygen transport", 481, 1841.5),
                     (": HBM,HBD,HBQ1,SNCA,ABCG2", 627, 1891.5)], 24.5, "#2A2118"))
layers.append(texts([("BLVRB,FECH,", 71, 1496), ("HMBS,BPGM,", 71, 1526), ("HAGH,SNCA,", 71, 1555.6), ("RPIA,ISCA1", 71, 1585)], 25.5, "#2A2118"))
layers.append(texts([("Gene symbol", 42, 1466.5), ("Gene symbol", 481, 1891.5)], 24.5, "#2A2118", fontStyle="italic"))
layers.append(rects([(823, 864, t, t + 20, c) for t, c in zip(LEG_T, LEG_C)]))
layers.append(texts(list(zip(LEG, [880]*8, LEG_Y)), 24.7, "#222222"))

# ----- E -----
pos = dict(zip(E_NAMES, zip(E_X, E_Y)))
lrows = []
for src, tg in E_LINKS.items():
    for t in tg.split():
        lrows.append((pos[src][0], pos[t][0], pos[src][1], pos[t][1]))
ldf = pd.DataFrame(lrows, columns=["x", "x2", "y", "y2"])
layers.append(alt.Chart(ldf).mark_rule(color="#8F8F8F", strokeWidth=1).encode(x=px("x"), x2=px2("x2"), y=py("y"), y2=py2("y2")))
edfn = pd.DataFrame({"t": E_NAMES, "x": E_X, "y": E_Y, "d": E_DEG, "s": E_FS})
layers.append(alt.Chart(edfn).mark_point(shape=ELLIPSE_E, size=1600, filled=True, opacity=1).encode(
    x=px("x"), y=py("y"),
    color=alt.Color("d:Q", scale=alt.Scale(domain=[4, 28, 50], range=["#F8D2D4", "#E5A6AB", "#C9535F"], interpolate="rgb"), legend=None)))
layers.append(alt.Chart(edfn).mark_text(font=FONT, color="#2A1018", baseline="middle").encode(
    x=px("x"), y=py("y"), text="t:N", size=alt.Size("s:Q", scale=None)))

chart = alt.layer(*layers).resolve_scale(
    x="independent", y="independent", color="independent", size="independent"
).resolve_axis(x="independent", y="independent").properties(
    width=W, height=H, padding=0, autosize=alt.AutoSizeParams(type="none"), background="#FFFFFF"
).configure_view(strokeWidth=0)

chart.save("out.html", embed_options={"renderer": "svg", "actions": False})
